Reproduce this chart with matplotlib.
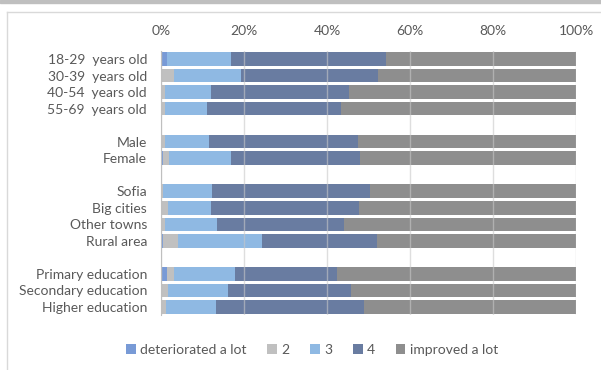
import matplotlib.pyplot as plt
from matplotlib.patches import Rectangle
from matplotlib.lines import Line2D

plt.rcParams['font.family'] = ['Lato', 'DejaVu Sans']

# categories, top to bottom ('' = spacer row)
groups = ['18-29  years old', '30-39  years old', '40-54  years old', '55-69  years old', '',
          'Male', 'Female', '',
          'Sofia', 'Big cities', 'Other towns', 'Rural area', '',
          'Primary education', 'Secondary education', 'Higher education']

series = ['deteriorated a lot', '2', '3', '4', 'improved a lot']
colors = ['#7598D6', '#BFBFBF', '#8DB8E3', '#66799F', '#8C8C8C']

# shares in %
det  = [1.4, 0.0, 0.0, 0.0, 0, 0.0, 0.4, 0, 0.0, 0.3, 0.0, 0.6, 0, 1.4, 0.0, 0.0]
s2   = [0.0, 3.1, 0.9, 0.9, 0, 1.0, 1.5, 0, 0.6, 1.3, 0.9, 3.4, 0, 1.7, 1.6, 1.2]
s3   = [15.5, 16.2, 11.2, 10.3, 0, 10.6, 15.0, 0, 11.8, 10.5, 12.5, 20.4, 0, 14.7, 14.5, 12.0]
s4   = [37.2, 33.1, 33.1, 32.2, 0, 35.8, 31.0, 0, 38.0, 35.6, 30.8, 27.7, 0, 24.6, 29.7, 35.6]
impr = [45.9, 47.6, 54.8, 56.6, 0, 52.6, 52.1, 0, 49.6, 52.3, 55.8, 47.9, 0, 57.6, 54.2, 51.2]
data = [det, s2, s3, s4, impr]

fig = plt.figure(figsize=(6.01, 3.70), dpi=100)

# frame decoration around the chart
fig.patches.append(Rectangle((0, 1 - 3 / 370), 1, 3 / 370, transform=fig.transFigure,
                             color='#BFBFBF', zorder=0))
fig.add_artist(Line2D([7 / 601, 1], [1 - 12 / 370] * 2, color='#D9D9D9', lw=1))
fig.add_artist(Line2D([7 / 601] * 2, [0, 1 - 12 / 370], color='#D9D9D9', lw=1))

ax = fig.add_axes([161 / 601, 1 - 315.25 / 370, 415 / 601, 264.5 / 370])

y = list(range(len(groups)))
left = [0] * len(groups)
for vals, name, c in zip(data, series, colors):
    ax.barh(y, vals, left=left, height=0.82, color=c, label=name, zorder=2, alpha=0.98)
    left = [a + b for a, b in zip(left, vals)]

ax.set_xlim(0, 100)
ax.set_ylim(15.5, -0.5)
ax.set_yticks(y)
ax.set_yticklabels(groups)
ax.set_xticks([0, 20, 40, 60, 80, 100])
ax.set_xticklabels(['0%', '20%', '40%', '60%', '80%', '100%'])
ax.xaxis.tick_top()
ax.tick_params(axis='both', length=0, labelsize=10, colors='#595959')
ax.tick_params(axis='x', pad=10)
ax.tick_params(axis='y', pad=10)
ax.grid(axis='x', color='#C8C8C8', lw=1, zorder=3, alpha=0.6)
ax.set_axisbelow(False)
for s in ['top', 'right', 'bottom']:
    ax.spines[s].set_visible(False)
ax.spines['left'].set_color('#BFBFBF')
ax.spines['left'].set_zorder(4)

ax.legend(loc='center', bbox_to_anchor=(312 / 601, 1 - 350 / 370), bbox_transform=fig.transFigure,
          ncol=5, frameon=False, fontsize=10, handlelength=0.7, handleheight=0.7,
          handletextpad=0.3, columnspacing=1.5, labelcolor='#595959')

fig.savefig('out.png', dpi=100)
